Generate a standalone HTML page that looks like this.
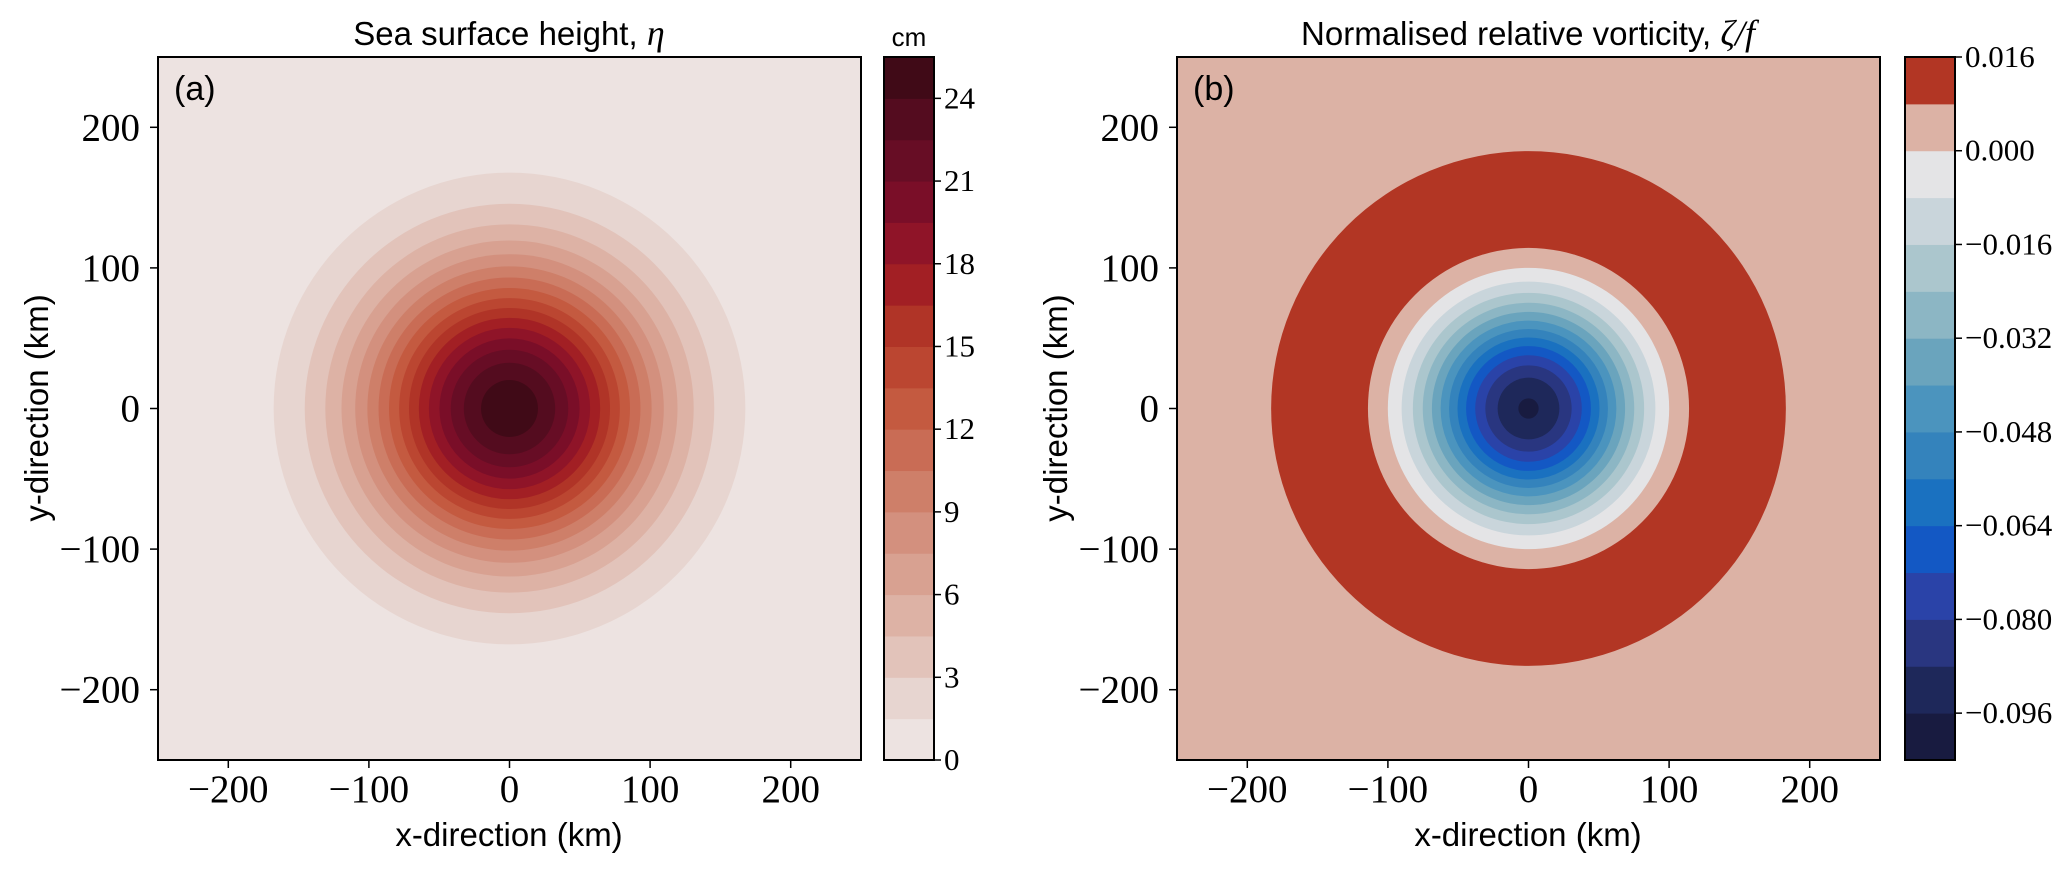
<!DOCTYPE html>
<html><head><meta charset="utf-8">
<style>
html,body{margin:0;padding:0;background:#fff;width:2067px;height:871px;overflow:hidden}
svg{display:block}
.sans{font-family:"Liberation Sans","DejaVu Sans",sans-serif}
.serif{font-family:"Liberation Serif","DejaVu Serif",serif}
</style></head>
<body>
<svg id="fig" width="2067" height="871" viewBox="0 0 2067 871" xmlns="http://www.w3.org/2000/svg" style="overflow:hidden"></svg>
<script>
// ---- data ----
const sshLevels = [0,1.5,3,4.5,6,7.5,9,10.5,12,13.5,15,16.5,18,19.5,21,22.5,24,25.5];
const sshColors = ["#ede3e1","#e7d5d0","#e2c3ba","#ddb2a5","#d8a191","#d3907e","#ce7f69","#c96c55","#c45a40","#bb4631","#b03427","#a21f24","#8f1428","#7a0e28","#670d25","#540c1f","#400a17"];
const sshTicks = [0,3,6,9,12,15,18,21,24];
const sshAmplitude = 25.0;   // cm
const eddyRadius = 100;      // km
const vorLevels = [-0.104,-0.096,-0.088,-0.080,-0.072,-0.064,-0.056,-0.048,-0.040,-0.032,-0.024,-0.016,-0.008,0.000,0.008,0.016];
const vorColors = ["#181b40","#1e285a","#293680","#2a43a8","#1358c4","#1a71c0","#3483bc","#4b94be","#6aa4bd","#8cb6c4","#abc6cd","#c9d5db","#e4e4e6","#dcb2a5","#b23624"];
const vorTicks = [-0.096,-0.080,-0.064,-0.048,-0.032,-0.016,0.000,0.016];
const vorAmplitude = 0.097;
const axisTicks = [-200,-100,0,100,200];

const NS="http://www.w3.org/2000/svg";
const svg=document.getElementById('fig');
function mk(tag,attrs,parent){const e=document.createElementNS(NS,tag);for(const k in attrs)e.setAttribute(k,attrs[k]);(parent||svg).appendChild(e);return e;}
function txt(s,attrs,parent){const e=mk('text',attrs,parent);e.textContent=s;return e;}
function fmt(v){const s=v.toFixed(3);return v<0?'\u2212'+s.slice(1):s;}

const AX0=-250,AX1=250;
function sx(x,L){return L+(x-AX0)/(AX1-AX0)*703;}
function sy(y){return 760-(y-AX0)/(AX1-AX0)*703;}
function band(v,levels){for(let i=0;i<levels.length-1;i++){if(v<levels[i+1])return i;}return levels.length-2;}

function fieldSSH(r){return sshAmplitude*Math.exp(-(r*r)/(eddyRadius*eddyRadius));}
function fieldVor(r){const q=r*r/(eddyRadius*eddyRadius);return vorAmplitude*(q-1)*Math.exp(-q);}

function panel(L,id,titleText,titleMath,letter,field,levels,colors,ticks,cbL,tickFmt,unit){
  const g=mk('g',{});
  
  
  const clip=mk('clipPath',{id:'clip'+id},g);
  mk('rect',{x:L,y:57,width:703,height:703},clip);
  const cg=mk('g',{'clip-path':'url(#clip'+id+')'},g);
  
  
  const segs=[];let cur=band(field(0),levels),start=0;
  for(let r=0.05;r<=400;r+=0.05){const b=band(field(r),levels);if(b!==cur){segs.push([start,r,cur]);cur=b;start=r;}}
  segs.push([start,400,cur]);
  const cx=sx(0,L),cy=sy(0),k=703/500;
  for(let i=segs.length-1;i>=0;i--){
    const c=mk('circle',{cx:cx,cy:cy,r:segs[i][1]*k,fill:colors[segs[i][2]]},cg);
    
    
  }
  const fr=mk('rect',{x:L,y:57,width:703,height:703,fill:'none',stroke:'#000','stroke-width':2},g);
  
  
  axisTicks.forEach(t=>{
    const x=sx(t,L);
    mk('line',{x1:x,x2:x,y1:760,y2:768,stroke:'#000','stroke-width':1.5},g);
    const a=txt(t<0?'\u2212'+(-t):String(t),{x:x,y:802,'text-anchor':'middle','font-size':39,class:'serif'},g);
    
    
    const y=sy(t);
    mk('line',{x1:L-8,x2:L,y1:y,y2:y,stroke:'#000','stroke-width':1.5},g);
    const b=txt(t<0?'\u2212'+(-t):String(t),{x:L-18,y:y+13,'text-anchor':'end','font-size':39,class:'serif'},g);
    
    
  });
  const xl=txt('x-direction (km)',{x:L+351,y:846,'text-anchor':'middle','font-size':33,class:'sans'},g);
  
  
  const yx=L-110;
  const yl=txt('y-direction (km)',{x:yx,y:408,'text-anchor':'middle','font-size':33,class:'sans',transform:'rotate(-90 '+yx+' 408)'},g);
  
  
  const tt=mk('text',{x:L+351,y:45,'text-anchor':'middle','font-size':33,class:'sans'},g);
  
  
  const t1=mk('tspan',{},tt);t1.textContent=titleText;
  const t2=mk('tspan',{'font-style':'italic','font-family':'"Liberation Serif",serif','font-size':36},tt);t2.textContent=titleMath;
  const lt=txt(letter,{x:L+16,y:100,'font-size':34,class:'sans'},g);
  
  
  const cb=mk('g',{},g);
  
  
  const lo=levels[0],hi=levels[levels.length-1];
  const cyv=v=>760-(v-lo)/(hi-lo)*703;
  for(let i=0;i<colors.length;i++){
    const y1=cyv(levels[i+1]),y0=cyv(levels[i]);
    const r=mk('rect',{x:cbL,y:y1,width:50,height:y0-y1+0.5,fill:colors[i]},cb);
    
    
  }
  mk('rect',{x:cbL,y:57,width:50,height:703,fill:'none',stroke:'#000','stroke-width':2},cb);
  ticks.forEach(t=>{
    const y=cyv(t);
    mk('line',{x1:cbL+50,x2:cbL+57,y1:y,y2:y,stroke:'#000','stroke-width':1.5},cb);
    const l=txt(tickFmt(t),{x:cbL+60,y:y+10,'font-size':31,class:'serif'},cb);
    
    
  });
  if(unit){const u=txt(unit,{x:cbL+25,y:46,'text-anchor':'middle','font-size':26,class:'sans'},cb);
    
    }
}
panel(158,'a','Sea surface height, ','\u03B7','(a)',fieldSSH,sshLevels,sshColors,sshTicks,884,t=>String(t),'cm');
panel(1177,'b','Normalised relative vorticity, ','\u03B6/f','(b)',fieldVor,vorLevels,vorColors,vorTicks,1905,fmt,null);
</script>
</body></html>
